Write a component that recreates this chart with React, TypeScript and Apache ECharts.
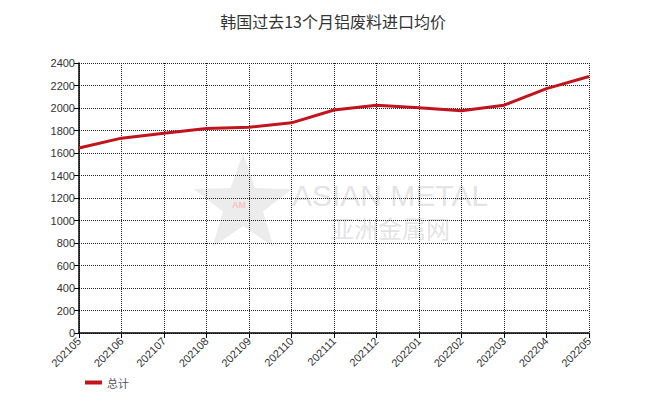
import React, { useEffect, useRef } from "react";
import * as echarts from "echarts";

const categories = ["202105", "202106", "202107", "202108", "202109", "202110", "202111", "202112", "202201", "202202", "202203", "202204", "202205"];
const totalValues = [1645, 1732, 1775, 1818, 1828, 1868, 1982, 2025, 2003, 1976, 2025, 2172, 2280];
const seriesName = "总计";
const titleText = "韩国过去13个月铝废料进口均价";

function starPoints(cx: number, cy: number, ro: number, ri: number) {
  const pts: number[][] = [];
  for (let i = 0; i < 10; i++) {
    const r = i % 2 === 0 ? ro : ri;
    const a = -Math.PI / 2 + (i * Math.PI) / 5;
    pts.push([cx + r * Math.cos(a), cy + r * Math.sin(a)]);
  }
  return pts;
}

export default function App() {
  const ref = useRef<HTMLDivElement>(null);
  useEffect(() => {
    if (!ref.current) return;
    const chart = echarts.init(ref.current, undefined, { renderer: "svg" });
    const dotted = { color: "#222", type: [1, 1] as any, width: 1 };
    chart.setOption({
      animation: false,
      backgroundColor: "#fff",
      title: {
        text: titleText,
        left: "center",
        top: 8,
        textStyle: { fontFamily: "Noto Sans CJK SC", fontSize: 16, fontWeight: "normal", color: "#333" },
      },
      graphic: [
        {
          type: "polygon",
          shape: { points: starPoints(243, 205, 52, 21) },
          style: { fill: "#ececec" },
          z: 0,
        },
        {
          type: "text",
          x: 232,
          y: 200,
          style: { text: "AM", fill: "#f2c4c8", font: "bold 9px Liberation Sans" },
          z: 0,
        },
        {
          type: "text",
          x: 292,
          y: 180,
          style: { text: "ASIAN METAL", fill: "#e4e4e4", font: "30px Liberation Sans" },
          z: 0,
        },
        {
          type: "text",
          x: 330,
          y: 215,
          style: { text: "亚洲金属网", fill: "#e4e4e4", font: "24px Noto Sans CJK SC" },
          z: 0,
        },
      ],
      legend: {
        left: 80,
        bottom: 12,
        icon: "rect",
        itemWidth: 17,
        itemHeight: 4,
        itemGap: 6,
        textStyle: { fontFamily: "Noto Sans CJK SC", fontSize: 11, color: "#555" },
        data: [seriesName],
      },
      grid: { left: 79, right: 77, top: 63, bottom: 72, containLabel: false },
      xAxis: {
        type: "category",
        data: categories,
        boundaryGap: false,
        axisLine: { lineStyle: { color: "#000", width: 1.5 } },
        axisTick: { show: true, length: 5, lineStyle: { color: "#000" } },
        axisLabel: {
          rotate: 45,
          fontFamily: "Liberation Sans",
          fontSize: 11,
          color: "#333",
          margin: 6,
          interval: 0,
        },
        splitLine: { show: true, lineStyle: dotted },
      },
      yAxis: {
        type: "value",
        min: 0,
        max: 2400,
        interval: 200,
        axisLine: { show: true, lineStyle: { color: "#000", width: 1.5 } },
        axisTick: { show: true, length: 5, lineStyle: { color: "#000" } },
        axisLabel: {
          fontFamily: "Liberation Sans",
          fontSize: 11,
          color: "#333",
          margin: 4,
          formatter: (v: number) => String(v),
        },
        splitLine: { show: true, lineStyle: dotted },
      },
      series: [
        {
          name: seriesName,
          type: "line",
          data: totalValues,
          symbol: "none",
          lineStyle: { color: "#c0141f", width: 3 },
          itemStyle: { color: "#c0141f" },
          z: 3,
        },
      ],
    });
    return () => chart.dispose();
  }, []);
  return <div ref={ref} style={{ width: 666, height: 405, position: "absolute", left: 0, top: 0 }} />;
}
